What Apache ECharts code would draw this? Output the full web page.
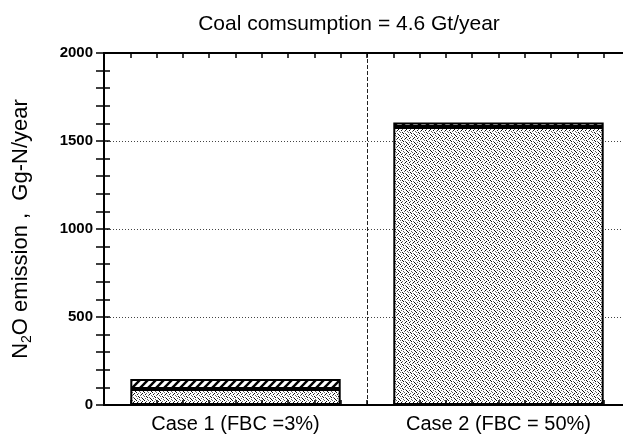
<!DOCTYPE html>
<html>
<head>
<meta charset="utf-8">
<script src="https://cdn.jsdelivr.net/npm/echarts@6/dist/echarts.min.js"></script>
<style>
html,body{margin:0;padding:0;background:#fff;}
#c{width:623px;height:439px;}
</style>
</head>
<body>
<div id="c"></div>
<script>
// ---- data ----
const categories = ['Case 1 (FBC =3%)', 'Case 2 (FBC = 50%)'];
const stippledPart = [91, 1580];   // lower (stippled) component
const hatchedPart = [57, 25];      // upper (hatched) component
const yTicks = [0, 500, 1000, 1500, 2000];
const titleText = 'Coal comsumption = 4.6 Gt/year';

// ---- fill patterns ----
function makeStipple() {
  const rows = [
    'x...o...',
    '..o...x.',
    '.x...x..',
    '....o..o',
    'o.x.....',
    '...x.o..',
    '.o....x.',
    '...o...x'
  ];
  const c = document.createElement('canvas');
  c.width = 8; c.height = 8;
  const g = c.getContext('2d');
  g.fillStyle = '#fff'; g.fillRect(0, 0, 8, 8);
  rows.forEach((r, y) => {
    for (let x = 0; x < 8; x++) {
      if (r[x] === 'x') { g.fillStyle = '#111'; g.fillRect(x, y, 1, 1); }
      else if (r[x] === 'o') { g.fillStyle = '#666'; g.fillRect(x, y, 1, 1); }
    }
  });
  return c;
}
function makeHatch() {
  const c = document.createElement('canvas');
  c.width = 8; c.height = 8;
  const g = c.getContext('2d');
  g.fillStyle = '#fff'; g.fillRect(0, 0, 8, 8);
  g.strokeStyle = '#000'; g.lineWidth = 2.4;
  [-8, 0, 8].forEach(k => {
    g.beginPath(); g.moveTo(-1, 9 + k); g.lineTo(9, -1 + k); g.stroke();
  });
  return c;
}

const chart = echarts.init(document.getElementById('c'));
const font = '"Liberation Sans", Arial, Helvetica, sans-serif';
const tickAxisCommon = {
  type: 'value', min: 0, max: 20, interval: 1,
  axisLabel: { show: false }, splitLine: { show: false },
  axisTick: { show: true, inside: true, length: 5, lineStyle: { color: '#000', width: 1.5 } }
};

chart.setOption({
  animation: false,
  backgroundColor: '#fff',
  textStyle: { fontFamily: font, color: '#000' },
  title: {
    text: titleText,
    left: 344, top: 9, textAlign: 'center',
    textStyle: { fontFamily: font, fontSize: 21, fontWeight: 'normal', color: '#000' }
  },
  grid: { left: 104, top: 53, width: 526, height: 352, containLabel: false, outerBoundsMode: 'none' },
  xAxis: [
    {
      type: 'category', data: categories, position: 'bottom',
      axisLine: { lineStyle: { color: '#000', width: 2 } },
      axisTick: { show: false },
      axisLabel: { fontSize: 20, color: '#000', margin: 9, fontFamily: font },
      splitLine: { show: true, lineStyle: { color: '#222', width: 1, type: [4, 2] } }
    },
    Object.assign({ position: 'top', axisLine: { show: true, onZero: false, lineStyle: { color: '#000', width: 2 } } }, tickAxisCommon),
    Object.assign({ position: 'bottom', z: 5, axisLine: { show: false } }, tickAxisCommon)
  ],
  yAxis: [
    {
      type: 'value', min: yTicks[0], max: yTicks[yTicks.length - 1], interval: yTicks[1] - yTicks[0],
      name: '{a|N}{s|2}{a|O emission ,  Gg-N/year}',
      nameLocation: 'middle', nameRotate: 90, nameGap: 70,
      nameTextStyle: {
        rich: {
          a: { fontSize: 22, fontFamily: font, color: '#000', lineHeight: 26 },
          s: { fontSize: 14, fontFamily: font, color: '#000', lineHeight: 14, verticalAlign: 'bottom' }
        }
      },
      axisLine: { show: true, lineStyle: { color: '#000', width: 2 } },
      axisTick: { show: true, inside: true, length: 6, lineStyle: { color: '#000', width: 1.5 } },
      minorTick: { show: true, splitNumber: 5, length: 6, lineStyle: { color: '#000', width: 1.5 } },
      axisLabel: { fontSize: 15, fontWeight: 'bold', color: '#000', margin: 11, fontFamily: font,
                   formatter: v => String(v) },
      splitLine: { show: true, lineStyle: { color: '#444', width: 1, type: [1, 2] } }
    },
    {
      type: 'value', position: 'right', min: 0, max: 2000, interval: 500,
      axisLine: { show: true, lineStyle: { color: '#000', width: 2 } },
      axisTick: { show: true, inside: true, length: 8, lineStyle: { color: '#000', width: 1.5 } },
      minorTick: { show: true, splitNumber: 5, length: 8, lineStyle: { color: '#000', width: 1.5 } },
      axisLabel: { show: false }, splitLine: { show: false }
    }
  ],
  series: [
    {
      type: 'bar', stack: 'n2o', data: stippledPart, barWidth: '80%',
      itemStyle: { color: { image: makeStipple(), repeat: 'repeat' }, borderColor: '#000', borderWidth: 2 }
    },
    {
      type: 'bar', stack: 'n2o', data: hatchedPart, barWidth: '80%',
      itemStyle: { color: { image: makeHatch(), repeat: 'repeat' }, borderColor: '#000', borderWidth: 2 }
    }
  ]
});
</script>
</body>
</html>
